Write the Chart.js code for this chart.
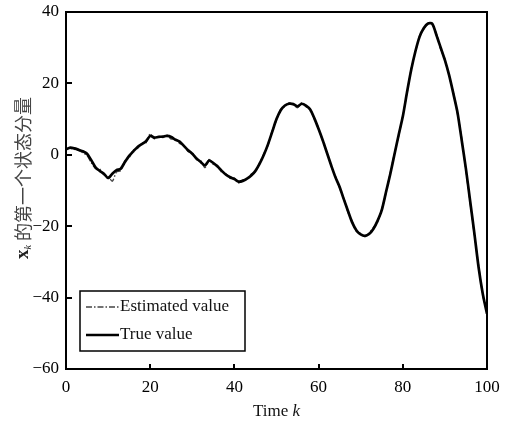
<!DOCTYPE html>
<html>
<head>
<meta charset="utf-8">
<script src="https://cdn.jsdelivr.net/npm/chart.js@4.4.1/dist/chart.umd.min.js"></script>
<style>
  html, body { margin: 0; padding: 0; background: #fff; }
  #wrap { width: 508px; height: 427px; }
</style>
</head>
<body>
<div id="wrap"><canvas id="mycanvas" width="508" height="427"></canvas></div>
<script>
// axis ticks
const xTicks = [0, 20, 40, 60, 80, 100];
const yTicks = [-60, -40, -20, 0, 20, 40];

// first state component of x_k, k = 0..100
const trueValue = [
  1.5, 2.0, 1.8, 1.4, 1.0, 0.3, -1.5, -3.5, -4.5, -5.3,
  -6.5, -5.3, -4.3, -3.9, -2.0, -0.3, 1.0, 2.2, 3.0, 3.8,
  5.3, 4.8, 5.0, 5.1, 5.3, 5.0, 4.2, 3.7, 2.5, 1.3,
  0.3, -1.0, -2.0, -3.0, -1.6, -2.3, -3.3, -4.5, -5.6, -6.3,
  -6.8, -7.5, -7.3, -6.7, -5.8, -4.5, -2.5, 0.0, 3.0, 6.5,
  10.0, 12.5, 13.8, 14.3, 14.2, 13.6, 14.3, 13.8, 12.7, 10.2,
  7.2, 4.0, 0.5, -3.0, -6.3, -9.0, -12.5, -15.8, -19.0, -21.2,
  -22.3, -22.7, -22.2, -20.8, -18.5, -15.5, -10.5, -5.5, 0.0, 5.5,
  10.7, 17.5, 23.8, 29.0, 33.1, 35.5, 36.8, 36.7, 33.5, 30.0,
  26.5, 22.3, 17.2, 11.8, 4.0, -4.0, -13.0, -22.0, -31.5, -39.0,
  -44.5
];

const estimatedValue = [
  1.8, 1.8, 1.5, 1.2, 0.6, -0.2, -2.2, -3.8, -4.0, -5.6,
  -6.0, -7.4, -4.8, -4.4, -1.6, -0.8, 1.3, 1.8, 3.3, 3.4,
  5.9, 4.5, 5.3, 4.8, 5.5, 4.4, 4.5, 3.2, 2.7, 0.9,
  0.6, -1.4, -1.7, -3.6, -1.3, -2.7, -3.0, -4.9, -5.3, -6.6,
  -6.5, -7.9, -7.0, -6.9, -5.4, -4.8, -2.2, 0.3, 2.7, 6.8,
  9.7, 12.8, 13.5, 14.6, 14.0, 13.2, 14.6, 13.5, 12.9, 10.0,
  7.5, 3.7, 0.8, -3.3, -6.0, -9.4, -12.2, -16.2, -18.7, -21.5,
  -22.0, -22.9, -21.9, -20.4, -18.8, -15.2, -10.8, -5.2, 0.3, 5.2,
  11.0, 17.2, 24.1, 28.7, 33.4, 35.2, 37.0, 36.4, 33.8, 29.6,
  26.8, 22.0, 17.5, 11.4, 4.6, -4.6, -13.5, -22.5, -31.0, -39.4,
  -44.0
];

const serif = "'Liberation Serif', 'DejaVu Serif', serif";
const cjk = "'Noto Sans CJK SC', sans-serif";

// frame, inward ticks, legend box and axis titles
const decorations = {
  id: "decorations",
  afterDraw(chart) {
    const ctx = chart.ctx;
    const a = chart.chartArea;
    const xs = chart.scales.x, ys = chart.scales.y;
    ctx.save();
    ctx.strokeStyle = "#000";
    ctx.lineWidth = 2;
    ctx.strokeRect(a.left, a.top, a.right - a.left, a.bottom - a.top);
    ctx.beginPath();
    xTicks.slice(1, -1).forEach((v) => {
      const px = Math.round(xs.getPixelForValue(v));
      ctx.moveTo(px, a.bottom);
      ctx.lineTo(px, a.bottom - 5);
    });
    yTicks.slice(1, -1).forEach((v) => {
      const py = Math.round(ys.getPixelForValue(v));
      ctx.moveTo(a.left, py);
      ctx.lineTo(a.left + 6, py);
    });
    ctx.stroke();

    // legend
    const lx = 80, ly = 291, lw = 165, lh = 60;
    ctx.fillStyle = "#fff";
    ctx.fillRect(lx, ly, lw, lh);
    ctx.lineWidth = 1.5;
    ctx.strokeRect(lx, ly, lw, lh);
    const ds = chart.data.datasets;
    const rows = [ds[1], ds[0]];
    rows.forEach((d, i) => {
      const yy = ly + 16 + i * 28;
      ctx.beginPath();
      ctx.setLineDash(d.borderDash || []);
      ctx.strokeStyle = d.borderColor;
      ctx.lineWidth = d.borderWidth;
      ctx.moveTo(86, yy);
      ctx.lineTo(119, yy);
      ctx.stroke();
      ctx.setLineDash([]);
      ctx.fillStyle = "#111";
      ctx.font = "17px " + serif;
      ctx.textBaseline = "middle";
      ctx.textAlign = "left";
      ctx.fillText(d.label, 120, yy);
    });

    // x title: Time k
    ctx.textBaseline = "middle";
    const t1 = "Time ";
    ctx.font = "17px " + serif;
    const w1 = ctx.measureText(t1).width;
    ctx.font = "italic 17px " + serif;
    const w2 = ctx.measureText("k").width;
    const sx = (a.left + a.right) / 2 - (w1 + w2) / 2;
    ctx.font = "17px " + serif;
    ctx.fillText(t1, sx, 412);
    ctx.font = "italic 17px " + serif;
    ctx.fillText("k", sx + w1, 412);

    // y title: x_k 的第一个状态分量
    ctx.save();
    ctx.translate(23, 178);
    ctx.rotate(-Math.PI / 2);
    ctx.font = "bold 19px " + serif;
    const wx = ctx.measureText("x").width;
    ctx.font = "italic 10px " + serif;
    const wk = ctx.measureText("k").width;
    ctx.font = "18px " + cjk;
    const cn = "的第一个状态分量";
    const wc = ctx.measureText(cn).width;
    const total = wx + wk + 4 + wc;
    let p = -total / 2;
    ctx.fillStyle = "#222";
    ctx.font = "bold 19px " + serif;
    ctx.fillText("x", p, 0);
    p += wx;
    ctx.font = "italic 10px " + serif;
    ctx.fillText("k", p, 5);
    p += wk + 4;
    ctx.fillStyle = "#444";
    ctx.font = "18px " + cjk;
    ctx.fillText(cn, p, 0);
    ctx.restore();

    ctx.restore();
  },
};

const minus = (v) => String(v).replace("-", "\u2212");

const ctx = document.getElementById("mycanvas");
const myChart = new Chart(ctx, {
  type: "line",
  data: {
    datasets: [
      {
        label: "True value",
        data: trueValue.map((v, i) => ({ x: i, y: v })),
        borderColor: "#000000",
        borderWidth: 2.7,
        pointRadius: 0,
        tension: 0.25,
        order: 0,
      },
      {
        label: "Estimated value",
        data: estimatedValue.map((v, i) => ({ x: i, y: v })),
        borderColor: "#444444",
        borderWidth: 1.4,
        borderDash: [6, 2, 1.5, 2],
        pointRadius: 0,
        tension: 0.25,
        order: 1,
      },
    ],
  },
  options: {
    responsive: false,
    animation: false,
    layout: { padding: { top: 12, right: 21, left: 0, bottom: 0 } },
    plugins: {
      legend: { display: false },
      tooltip: { enabled: false },
    },
    scales: {
      x: {
        type: "linear",
        min: 0,
        max: 100,
        afterBuildTicks: (s) => { s.ticks = xTicks.map((v) => ({ value: v })); },
        afterFit: (s) => { s.height = 58; s.paddingLeft = 0; s.paddingRight = 0; },
        grid: { display: false, drawTicks: false },
        border: { display: false },
        ticks: { color: "#000", font: { family: serif, size: 17 }, padding: 8, maxRotation: 0, callback: minus },
      },
      y: {
        type: "linear",
        min: -60,
        max: 40,
        afterBuildTicks: (s) => { s.ticks = yTicks.map((v) => ({ value: v })); },
        afterFit: (s) => { s.width = 66; s.paddingTop = 0; s.paddingBottom = 0; },
        grid: { display: false, drawTicks: false },
        border: { display: false },
        ticks: { color: "#000", font: { family: serif, size: 17 }, padding: 7, callback: minus },
      },
    },
  },
  plugins: [decorations],
});
</script>
</body>
</html>
